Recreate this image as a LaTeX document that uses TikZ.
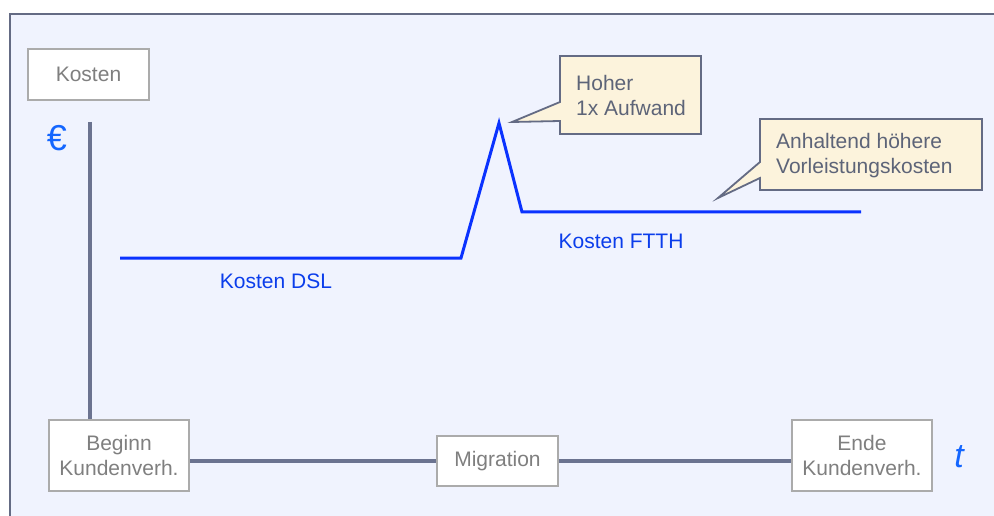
\documentclass[tikz,border=0pt]{standalone}
\usepackage{fontspec}
\setmainfont{Liberation Sans}
\definecolor{framebg}{HTML}{F0F3FE}
\definecolor{framedraw}{HTML}{646B84}
\definecolor{axiscol}{HTML}{6B7390}
\definecolor{boxdraw}{HTML}{ABABAB}
\definecolor{boxtext}{HTML}{7F7F7F}
\definecolor{curvecol}{HTML}{0A32FF}
\definecolor{bluetext}{HTML}{0B3DEB}
\definecolor{symbcol}{HTML}{1466FF}
\definecolor{callfill}{HTML}{FCF3DC}
\definecolor{calldraw}{HTML}{646B84}
\definecolor{calltext}{HTML}{5D6478}
\tikzset{
  graybox/.style={draw=boxdraw, line width=1.5pt, fill=white, text=boxtext, align=center, inner sep=0pt,
    font=\fontsize{21}{25}\selectfont},
  axisline/.style={draw=axiscol, line width=4.5pt},
  costline/.style={draw=curvecol, line width=3pt, line join=miter},
  bluelabel/.style={text=bluetext, font=\fontsize{21}{25}\selectfont, inner sep=0pt},
  callout/.style={draw=calldraw, fill=callfill, line width=1.8pt, line join=miter},
  calllabel/.style={text=calltext, font=\fontsize{21}{25}\selectfont, align=left, inner sep=0pt, anchor=base west}
}
\begin{document}
\begin{tikzpicture}[x=1pt, y=-1pt]
\useasboundingbox (0,0) rectangle (994,516);
\fill[white] (0,0) rectangle (994,516);
% frame
\fill[framebg] (10,14) rectangle (994,516);
\draw[draw=framedraw, line width=2pt] (10,530) -- (10,14) -- (1010,14);

% boxes
\node[graybox, minimum width=121pt, minimum height=51pt] (kosten) at (88.5,74.5) {Kosten};
\node[graybox, minimum width=140pt, minimum height=71pt] (beginn) at (119,455.5) {Beginn\\Kundenverh.};
\node[graybox, minimum width=121pt, minimum height=50pt] (migration) at (497.5,461) {Migration};
\node[graybox, minimum width=140pt, minimum height=71pt] (ende) at (862,455.5) {Ende\\Kundenverh.};

% axes
\coordinate (ytop) at (90,122);
\draw[axisline] (ytop) -- (ytop |- beginn.north);
\draw[axisline] (beginn.east |- migration.west) -- (migration.west);
\draw[axisline] (migration.east) -- (ende.west |- migration.east);

\node[text=symbcol, font=\fontsize{36}{36}\selectfont, inner sep=0pt] (euro) at (57,138) {€};
\node[text=symbcol, font=\fontsize{34}{34}\selectfont\itshape, inner sep=0pt] (tlabel) at (959,457) {t};

% cost curve
\coordinate (c1) at (120,258);
\coordinate (c2) at (461,258);
\coordinate (c3) at (499,123);
\coordinate (c4) at (522,212);
\coordinate (c5) at (861,212);
\draw[costline] (c1) -- (c2) -- (c3) -- (c4) -- (c5);

\node[bluelabel] (dsl) at (276,281) {Kosten DSL};
\node[bluelabel] (ftth) at (621,241) {Kosten FTTH};

% callouts
\coordinate (tip1) at (512,122);
\draw[callout] (560,56) -- (701,56) -- (701,134) -- (560,134) -- (560,121) -- (tip1) -- (560,102) -- cycle;
\node[calllabel] (hoher) at (576,116) {Hoher\\1x Aufwand};

\coordinate (tip2) at (718,198);
\draw[callout] (760,119) -- (982,119) -- (982,190) -- (760,190) -- (760,178) -- (tip2) -- (760,162) -- cycle;
\node[calllabel] (anhaltend) at (776,174) {Anhaltend höhere\\Vorleistungskosten};
\end{tikzpicture}
\end{document}
